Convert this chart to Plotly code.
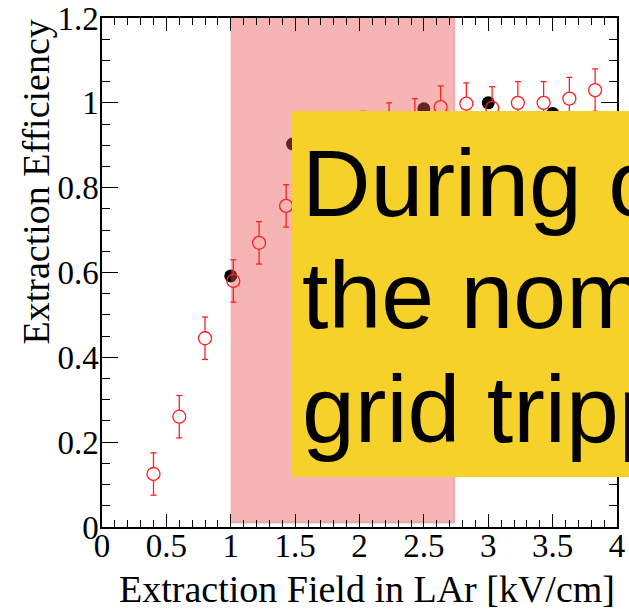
import plotly.graph_objects as go

# ---------------- data ----------------
red_x = [0.4, 0.6, 0.8, 1.02, 1.22, 1.43, 1.63, 1.83, 2.03, 2.23, 2.43, 2.63, 2.83, 3.03, 3.23, 3.43, 3.63, 3.83]
red_y = [0.125, 0.26, 0.445, 0.58, 0.67, 0.757, 0.84, 0.89, 0.93, 0.95, 0.96, 0.99, 0.998, 0.988, 1.0, 1.0, 1.01, 1.03]
red_err = [0.05, 0.05, 0.05, 0.05, 0.05, 0.05, 0.05, 0.05, 0.05, 0.05, 0.05, 0.05, 0.049, 0.05, 0.05, 0.05, 0.05, 0.05]

black_x = [1.0, 1.48, 2.0, 2.5, 3.0, 3.5]
black_y = [0.592, 0.903, 0.95, 0.986, 1.0, 0.975]

band_x = [1.0, 2.74]          # shaded field range
band_y = [0.0095, 1.2]

x_range = [0, 4]
y_range = [0, 1.2]

box_lines = ["During operation", "the nominal", "grid tripped"]
x_title = "Extraction Field in LAr [kV/cm]"
y_title = "Extraction Efficiency"

# ---------------- layout geometry ----------------
W, H = 629, 611
ML, MR, MT, MB = 102, 12, 18, 84
PW = W - ML - MR
PH = H - MT - MB

R_PX = 6.5      # marker radius in px
CAP_PX = 3.0    # error bar cap half width in px
gap = R_PX * (y_range[1] - y_range[0]) / PH
cap = CAP_PX * (x_range[1] - x_range[0]) / PW

# error bar segments (with gap around the hollow marker, ROOT style)
ex, ey = [], []
for x, y, e in zip(red_x, red_y, red_err):
    ex += [x, x, None, x, x, None, x - cap, x + cap, None, x - cap, x + cap, None]
    ey += [y + gap, y + e, None, y - gap, y - e, None, y + e, y + e, None, y - e, y - e, None]

fig = go.Figure()

# black points (beneath the shaded band)
fig.add_trace(go.Scatter(
    x=black_x, y=black_y, mode="markers",
    marker=dict(symbol="circle", size=13, color="black", line=dict(width=0)),
    showlegend=False, hoverinfo="skip"))

# shaded band
fig.add_trace(go.Scatter(
    x=[band_x[0], band_x[1], band_x[1], band_x[0], band_x[0]],
    y=[band_y[0], band_y[0], band_y[1], band_y[1], band_y[0]],
    mode="lines", fill="toself", fillcolor="rgba(234,80,80,0.43)",
    line=dict(width=0), showlegend=False, hoverinfo="skip"))
# faint shadow on the band edge
fig.add_trace(go.Scatter(
    x=[band_x[1], band_x[1], band_x[0]],
    y=[band_y[1], band_y[0], band_y[0]],
    mode="lines", line=dict(color="rgba(0,0,0,0.08)", width=3),
    showlegend=False, hoverinfo="skip"))

# red error bars
fig.add_trace(go.Scatter(
    x=ex, y=ey, mode="lines", line=dict(color="#ff2020", width=1.3),
    showlegend=False, hoverinfo="skip", connectgaps=False))
# red hollow markers
fig.add_trace(go.Scatter(
    x=red_x, y=red_y, mode="markers",
    marker=dict(symbol="circle-open", size=13, color="#ff2020", line=dict(width=1.3)),
    showlegend=False, hoverinfo="skip"))

tickfont = dict(family="Liberation Serif", size=33, color="black")
axis_common = dict(
    ticks="inside", showline=True, linecolor="black", linewidth=1.5,
    mirror="allticks", showgrid=False, zeroline=False, tickcolor="black",
    tickwidth=1.2, tickfont=tickfont, fixedrange=True, automargin=False,
)
fig.update_xaxes(range=x_range, dtick=0.5, tick0=0, ticklen=13,
                 minor=dict(dtick=0.1, ticklen=7, ticks="inside", tickcolor="black", tickwidth=1.2),
                 ticklabelstandoff=-11,
                 **axis_common)
fig.update_yaxes(range=y_range, dtick=0.2, tick0=0, ticklen=16,
                 minor=dict(dtick=0.05, ticklen=8, ticks="inside", tickcolor="black", tickwidth=1.2),
                 ticklabelstandoff=-5,
                 **axis_common)

# yellow overlay box
box_left_px, box_top_px, box_bottom_px = 292, 111, 477
fig.add_shape(type="rect", xref="paper", yref="paper", layer="above",
              x0=(box_left_px - ML) / PW, x1=1.2,
              y0=(MT + PH - box_bottom_px) / PH, y1=(MT + PH - box_top_px) / PH,
              fillcolor="#F5D12A", line=dict(width=0))

line_centers_px = [183, 295, 409]
for txt, cy in zip(box_lines, line_centers_px):
    fig.add_annotation(text=txt, xref="paper", yref="paper",
                       x=(300 - ML) / PW, y=(MT + PH - cy) / PH,
                       xanchor="left", yanchor="middle", showarrow=False,
                       font=dict(family="Liberation Sans", size=95, color="black"))

titlefont = dict(family="Liberation Serif", size=38, color="black")
fig.add_annotation(text=x_title, xref="paper", yref="paper", x=1.0, y=(MT + PH - 589) / PH,
                   xanchor="right", yanchor="middle", showarrow=False, font=titlefont)
fig.add_annotation(text=y_title, xref="paper", yref="paper", x=(35 - ML) / PW, y=1.0,
                   xanchor="center", yanchor="top", textangle=-90, showarrow=False, font=titlefont)

fig.update_layout(width=W, height=H, margin=dict(l=ML, r=MR, t=MT, b=MB, autoexpand=False),
                  paper_bgcolor="white", plot_bgcolor="white", showlegend=False)

fig.write_html("out.html")
